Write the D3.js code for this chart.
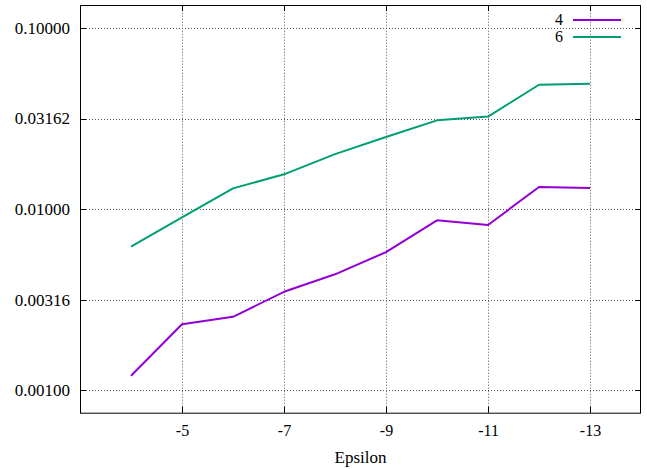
<!DOCTYPE html>
<html>
<head>
<meta charset="utf-8">
<script src="https://cdn.jsdelivr.net/npm/d3@7"></script>
<style>
  body { margin: 0; background: #fff; }
  text { font-family: "Liberation Serif", "Times New Roman", serif; }
</style>
</head>
<body>
<div id="chart"></div>
<script>
const epsilon = [-4, -5, -6, -7, -8, -9, -10, -11, -12, -13]
const series4 = [0.00120, 0.00231, 0.00254, 0.00349, 0.00436, 0.00578, 0.00866, 0.00816, 0.01323, 0.01306]
const series6 = [0.00620, 0.00900, 0.01300, 0.01555, 0.02010, 0.02500, 0.03090, 0.03240, 0.04860, 0.04920]
const seriesNames = ['4', '6']
const xTicks = [-5, -7, -9, -11, -13]
const yTicks = [0.001, 0.00316, 0.01, 0.03162, 0.1]

const width = 647, height = 469
const margin = { left: 80, right: 6, top: 5, bottom: 56.3 }
const colors = ['#9400d3', '#009e73']

const svg = d3.select('#chart').append('svg')
  .attr('width', width)
  .attr('height', height)

const x = d3.scaleLinear()
  .domain([-3, -14])
  .range([margin.left, width - margin.right])

const y = d3.scaleLog()
  .domain([Math.pow(10, -3.125), Math.pow(10, -0.873)])
  .range([height - margin.bottom, margin.top])

const x0 = margin.left, x1 = width - margin.right
const y0 = height - margin.bottom, y1 = margin.top

// grid
const grid = svg.append('g')
  .attr('stroke', '#555')
  .attr('stroke-width', 1)
  .attr('stroke-dasharray', '1,2')
grid.selectAll('.gx').data(xTicks).enter().append('line')
  .attr('x1', d => Math.round(x(d)) + 0.5).attr('x2', d => Math.round(x(d)) + 0.5)
  .attr('y1', y0).attr('y2', y1)
grid.selectAll('.gy').data(yTicks).enter().append('line')
  .attr('y1', d => Math.round(y(d)) + 0.5).attr('y2', d => Math.round(y(d)) + 0.5)
  .attr('x1', x0).attr('x2', x1)

// inner ticks on all four sides
const ticks = svg.append('g').attr('stroke', '#000').attr('stroke-width', 1)
xTicks.forEach(t => {
  let px = Math.round(x(t)) + 0.5
  ticks.append('line').attr('x1', px).attr('x2', px).attr('y1', y0).attr('y2', y0 - 6)
  ticks.append('line').attr('x1', px).attr('x2', px).attr('y1', y1).attr('y2', y1 + 6)
})
yTicks.forEach(t => {
  let py = Math.round(y(t)) + 0.5
  ticks.append('line').attr('y1', py).attr('y2', py).attr('x1', x0).attr('x2', x0 + 6)
  ticks.append('line').attr('y1', py).attr('y2', py).attr('x1', x1).attr('x2', x1 - 6)
})

// axis labels
const yAxis = svg.append('g')
  .attr('transform', `translate(${x0},0)`)
  .call(d3.axisLeft(y).tickValues(yTicks).tickFormat(d3.format('.5f')).tickSize(0).tickPadding(10))
yAxis.select('.domain').remove()
yAxis.attr('font-family', null)
yAxis.selectAll('text')
  .attr('font-size', 17)
  .attr('fill', '#000')

const xAxis = svg.append('g')
  .attr('transform', `translate(0,${y0})`)
  .call(d3.axisBottom(x).tickValues(xTicks).tickFormat(d => String(d)).tickSize(0).tickPadding(12))
xAxis.select('.domain').remove()
xAxis.attr('font-family', null)
xAxis.selectAll('text')
  .attr('font-size', 16)
  .attr('fill', '#000')

svg.append('text')
  .attr('x', (x0 + x1) / 2)
  .attr('y', 463)
  .attr('text-anchor', 'middle')
  .attr('font-size', 17)
  .text('Epsilon')

// lines
const line = d3.line()
  .x((d, i) => x(epsilon[i]))
  .y(d => y(d))

;[series4, series6].forEach((s, i) => {
  svg.append('path')
    .datum(s)
    .attr('fill', 'none')
    .attr('stroke', colors[i])
    .attr('stroke-width', 2)
    .attr('stroke-linejoin', 'round')
    .attr('d', line)
})

// legend
seriesNames.forEach((name, i) => {
  let ly = 20 + i * 17
  svg.append('text')
    .attr('x', 563)
    .attr('y', ly)
    .attr('dy', '0.33em')
    .attr('text-anchor', 'end')
    .attr('font-size', 16)
    .text(name)
  svg.append('line')
    .attr('x1', 573).attr('x2', 621)
    .attr('y1', ly).attr('y2', ly)
    .attr('stroke', colors[i])
    .attr('stroke-width', 2)
})

// frame
svg.append('rect')
  .attr('x', x0 + 0.5).attr('y', y1 + 0.5)
  .attr('width', x1 - x0 - 1).attr('height', y0 - y1)
  .attr('fill', 'none')
  .attr('stroke', '#000')
  .attr('stroke-width', 1)
</script>
</body>
</html>
